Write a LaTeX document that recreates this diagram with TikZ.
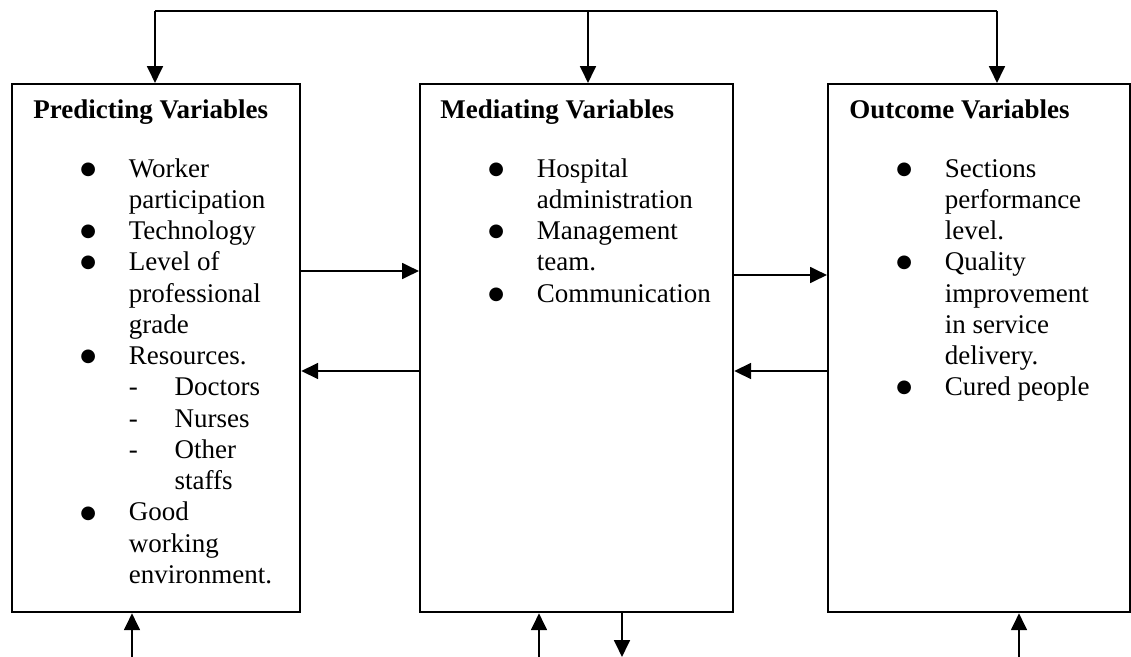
\documentclass[tikz,border=0pt]{standalone}
\usepackage{fontspec}
\setmainfont{Liberation Serif}
\newfontfamily\dotfont{DejaVu Sans}
\usetikzlibrary{arrows.meta,positioning}
\newcommand{\vardot}{\raisebox{1.3pt}{\fontsize{8}{8}\dotfont ●}}
\newcommand{\varitem}[1]{\makebox[21.5pt][l]{\vardot}#1}
\newcommand{\varcont}[1]{\hspace*{21.5pt}#1}
\newcommand{\resitem}[1]{\makebox[20.4pt][l]{-}#1}

\begin{document}
\begin{tikzpicture}[x=0.4445pt, y=-0.4445pt,
  varbox/.style={draw, line width=1pt, inner sep=0pt, minimum height=234.7pt, anchor=north west},
  vartitle/.style={anchor=base west, inner sep=0pt, font=\fontsize{12}{13.9}\selectfont\bfseries},
  varlist/.style={anchor=base west, inner sep=0pt, font=\fontsize{12}{13.9}\selectfont},
  link/.style={line width=1pt},
  arr/.style={link, -{Triangle[length=7.5pt,width=7pt]}}
]
  \useasboundingbox (0,0) rectangle (1131,657);

  % the three boxes
  \node[varbox, minimum width=128pt]   (pred) at (11,83)  {};
  \node[varbox, minimum width=139.1pt] (med)  at (419,83) {};
  \node[varbox, minimum width=134.2pt] (out)  at (827,83) {};

  \node[vartitle] (predtitle) at (33,118)  {Predicting Variables};
  \node[vartitle] (medtitle)  at (440,118) {Mediating Variables};
  \node[vartitle] (outtitle)  at (849,118) {Outcome Variables};

  \node[varlist] (predlist) at (80,177) {\begin{tabular}[t]{@{}l@{}}
    \varitem{Worker}\\ \varcont{participation}\\ \varitem{Technology}\\
    \varitem{Level of}\\ \varcont{professional}\\ \varcont{grade}\\
    \varitem{Resources.}\\ \varcont{\resitem{Doctors}}\\ \varcont{\resitem{Nurses}}\\
    \varcont{\resitem{Other}}\\ \varcont{\hspace*{20.4pt}staffs}\\
    \varitem{Good}\\ \varcont{working}\\ \varcont{environment.}
  \end{tabular}};
  \node[varlist] (medlist) at (488,177) {\begin{tabular}[t]{@{}l@{}}
    \varitem{Hospital}\\ \varcont{administration}\\
    \varitem{Management}\\ \varcont{team.}\\ \varitem{Communication}
  \end{tabular}};
  \node[varlist] (outlist) at (896,177) {\begin{tabular}[t]{@{}l@{}}
    \varitem{Sections}\\ \varcont{performance}\\ \varcont{level.}\\
    \varitem{Quality}\\ \varcont{improvement}\\ \varcont{in service}\\ \varcont{delivery.}\\
    \varitem{Cured people}
  \end{tabular}};

  % feedback line on top
  \coordinate (topl) at (155,11);
  \coordinate (topm) at (588,11);
  \coordinate (topr) at (997,11);
  \draw[link] (topl) -- (topr);
  \draw[arr] (topl) -- (topl |- pred.north);
  \draw[arr] (topm) -- (topm |- med.north);
  \draw[arr] (topr) -- (topr |- out.north);

  % links between the boxes
  \coordinate (fwd1) at (0,271);
  \coordinate (fwd2) at (0,275);
  \coordinate (back) at (0,371);
  \draw[arr] (pred.east |- fwd1) -- (med.west |- fwd1);
  \draw[arr] (med.west |- back) -- (pred.east |- back);
  \draw[arr] (med.east |- fwd2) -- (out.west |- fwd2);
  \draw[arr] (out.west |- back) -- (med.east |- back);

  % arrows at the bottom
  \coordinate (botp)  at (132,657);
  \coordinate (botm1) at (539,657);
  \coordinate (botm2) at (622,657);
  \coordinate (boto)  at (1019,657);
  \draw[arr] (botp) -- (botp |- pred.south);
  \draw[arr] (botm1) -- (botm1 |- med.south);
  \draw[arr] (botm2 |- med.south) -- (botm2);
  \draw[arr] (boto) -- (boto |- out.south);
\end{tikzpicture}
\end{document}
